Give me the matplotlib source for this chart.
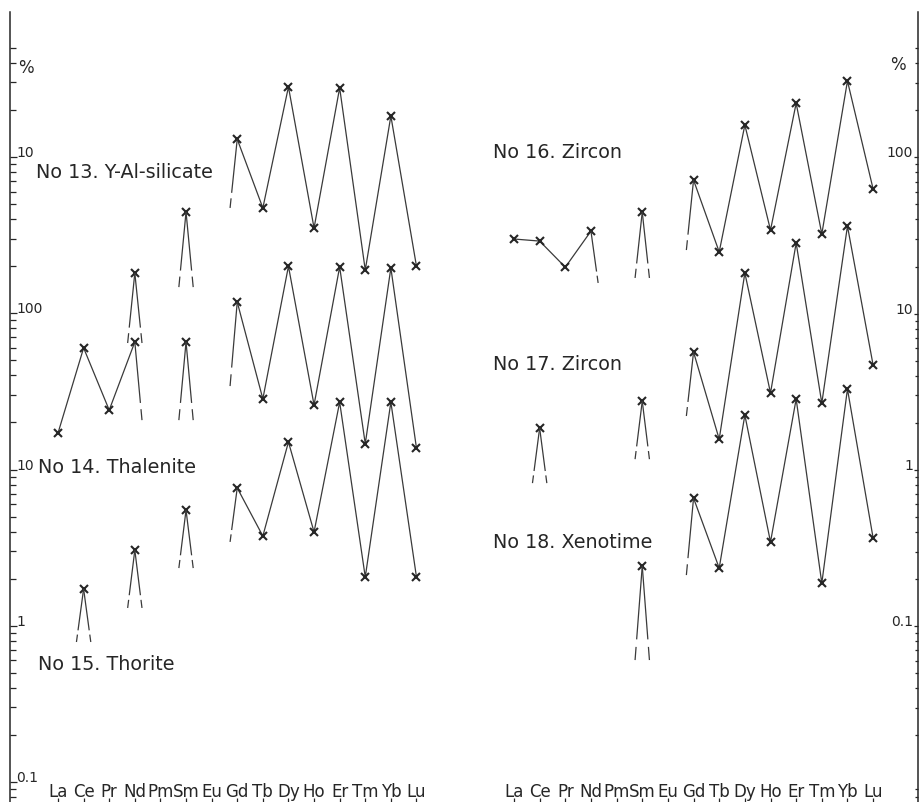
import numpy as np
import matplotlib.pyplot as plt
from matplotlib.ticker import FixedLocator

nan = np.nan
ree = ["La", "Ce", "Pr", "Nd", "Pm", "Sm", "Eu", "Gd", "Tb", "Dy", "Ho", "Er", "Tm", "Yb", "Lu"]

# REE contents in %, one entry per element (nan = not determined)
y_al_silicate = [nan, nan, nan, 1.81, nan, 4.45, nan, 13.0, 4.72, 28.1, 3.51, 27.7, 1.89, 18.3, 2.00]
thalenite = [17.1, 60.0, 24.0, 65.5, nan, 65.5, nan, 118, 28.3, 200, 25.9, 198, 14.6, 195, 13.7]
thorite = [nan, 1.72, nan, 3.05, nan, 5.50, nan, 7.62, 3.75, 15.0, 3.98, 27.0, 2.05, 27.0, 2.05]
zircon_16 = [30.0, 29.1, 19.8, 33.7, nan, 44.6, nan, 71.5, 24.8, 161, 34.2, 222, 32.3, 308, 62.7]
zircon_17 = [nan, 1.85, nan, nan, nan, 2.75, nan, 5.67, 1.57, 18.2, 3.10, 28.3, 2.67, 36.3, 4.68]
xenotime = [nan, nan, nan, nan, nan, 0.242, nan, 0.659, 0.235, 2.24, 0.345, 2.84, 0.188, 3.29, 0.366]

# where the broken lines towards missing neighbours stop
y_al_silicate_tail = [nan, nan, nan, 0.645, nan, 1.47, nan, 4.72] + [nan] * 7
thalenite_tail = [nan, nan, nan, 20.7, nan, 20.7, nan, 34.2] + [nan] * 7
thorite_tail = [nan, 0.787, nan, 1.30, nan, 2.34, nan, 3.44] + [nan] * 7
zircon_16_tail = [nan, nan, nan, 15.7, nan, 16.9, nan, 25.5] + [nan] * 7
zircon_17_tail = [nan, 0.822, nan, nan, nan, 1.17, nan, 2.21] + [nan] * 7
xenotime_tail = [nan, nan, nan, nan, nan, 0.0606, nan, 0.212] + [nan] * 7

left_series = [
    ("No 13. Y-Al-silicate", y_al_silicate, y_al_silicate_tail, 100, (36, 172)),
    ("No 14. Thalenite", thalenite, thalenite_tail, 1, (38, 468)),
    ("No 15. Thorite", thorite, thorite_tail, 1, (38, 665)),
]
right_series = [
    ("No 16. Zircon", zircon_16, zircon_16_tail, 1, (493, 153)),
    ("No 17. Zircon", zircon_17, zircon_17_tail, 1, (493, 365)),
    ("No 18. Xenotime", xenotime, xenotime_tail, 1, (493, 542)),
]

left_ticks = [0.1, 1, 10, 100, 1000]
left_tick_labels = ["0.1", "1", "10", "100", "10"]
right_ticks = [0.1, 1, 10, 100]
right_tick_labels = ["0.1", "1", "10", "100"]

W, H = 919, 802
INK = "#262626"
LINE = dict(color="#3a3a3a", lw=0.9, solid_capstyle="butt")

fig = plt.figure(figsize=(W / 100, H / 100), dpi=100)
ax_l = fig.add_axes([10 / W, 0, 450 / W, 790 / H])
ax_r = fig.add_axes([460 / W, 0, 458 / W, 790 / H])
ax_l.set_xlim(-1.875, 15.70)
ax_r.set_xlim(-2.105, 15.75)
ax_l.set_ylim(10 ** -1.128, 10 ** 3.928)
ax_r.set_ylim(10 ** -2.126, 10 ** 2.930)


def draw_tail(ax, x0, v0, x1, v1):
    l0, l1 = np.log10(v0), np.log10(v1)
    for a, b in [(0, 0.78), (0.86, 1.0)]:
        ax.plot([x0 + (x1 - x0) * a, x0 + (x1 - x0) * b],
                [10 ** (l0 + (l1 - l0) * a), 10 ** (l0 + (l1 - l0) * b)], **LINE)


def draw_series(ax, values, tails, shift):
    v = np.array(values, dtype=float) * shift
    t = np.array(tails, dtype=float) * shift
    x = np.arange(len(v))
    ax.plot(x, v, **LINE)  # nan breaks the line at missing elements
    ax.plot(x, v, ls="none", marker="x", ms=6, mew=1.5, color=INK)
    for i in range(len(v)):
        if np.isnan(v[i]) or np.isnan(t[i]):
            continue
        for j in (i - 1, i + 1):
            if 0 <= j < len(v) and np.isnan(v[j]):
                draw_tail(ax, i, v[i], i + 0.28 * (j - i), t[i])


def minor_ticks(top):
    vals = [m * 10.0 ** e for e in range(-3, 5) for m in range(2, 10)]
    return [v for v in vals if v <= top]


for ax, series in [(ax_l, left_series), (ax_r, right_series)]:
    ax.set_yscale("log")
    for name, values, tails, shift, (px, py) in series:
        draw_series(ax, values, tails, shift)
        fig.text(px / W, 1 - py / H, name, ha="left", va="center",
                 fontsize=13.8, color=INK)
    for s in ax.spines.values():
        s.set_visible(False)
    ax.set_xticks(range(len(ree)))
    ax.tick_params(axis="x", direction="in", length=3, width=0.9,
                   color=INK, labelbottom=False)
    for i, name in enumerate(ree):
        ax.text(i, 5 / 790, name, transform=ax.get_xaxis_transform(),
                ha="center", va="baseline", fontsize=12, color=INK)

# left scale
ax_l.spines["left"].set_visible(True)
ax_l.spines["left"].set_linewidth(1.1)
ax_l.spines["left"].set_color(INK)
ax_l.set_yticks(left_ticks)
ax_l.yaxis.set_minor_locator(FixedLocator(minor_ticks(5000)))
ax_l.tick_params(axis="y", which="both", direction="in", left=True, right=False,
                 labelleft=False, color=INK, width=0.9)
ax_l.tick_params(axis="y", which="major", length=5)
ax_l.tick_params(axis="y", which="minor", length=4)
for val, lab in zip(left_ticks, left_tick_labels):
    ax_l.text(6 / 450, val, lab, transform=ax_l.get_yaxis_transform(),
              ha="left", va="baseline", fontsize=10, color=INK)
ax_l.text(8 / 450, 1 - 56 / 790, "%", transform=ax_l.transAxes,
          ha="left", va="center", fontsize=12, color=INK)

# right scale
ax_r.spines["right"].set_visible(True)
ax_r.spines["right"].set_linewidth(1.1)
ax_r.spines["right"].set_color(INK)
ax_r.set_yticks(right_ticks)
ax_r.yaxis.set_minor_locator(FixedLocator(minor_ticks(500)))
ax_r.tick_params(axis="y", which="both", direction="in", left=False, right=True,
                 labelleft=False, labelright=False, color=INK, width=0.9)
ax_r.tick_params(axis="y", which="major", length=3)
ax_r.tick_params(axis="y", which="minor", length=2.5)
for val, lab in zip(right_ticks, right_tick_labels):
    ax_r.text(1 - 5 / 458, val, lab, transform=ax_r.get_yaxis_transform(),
              ha="right", va="baseline", fontsize=10, color=INK)
ax_r.text(1 - 12 / 458, 1 - 53 / 790, "%", transform=ax_r.transAxes,
          ha="right", va="center", fontsize=12, color=INK)

fig.savefig("out.png", dpi=100, facecolor="white")
